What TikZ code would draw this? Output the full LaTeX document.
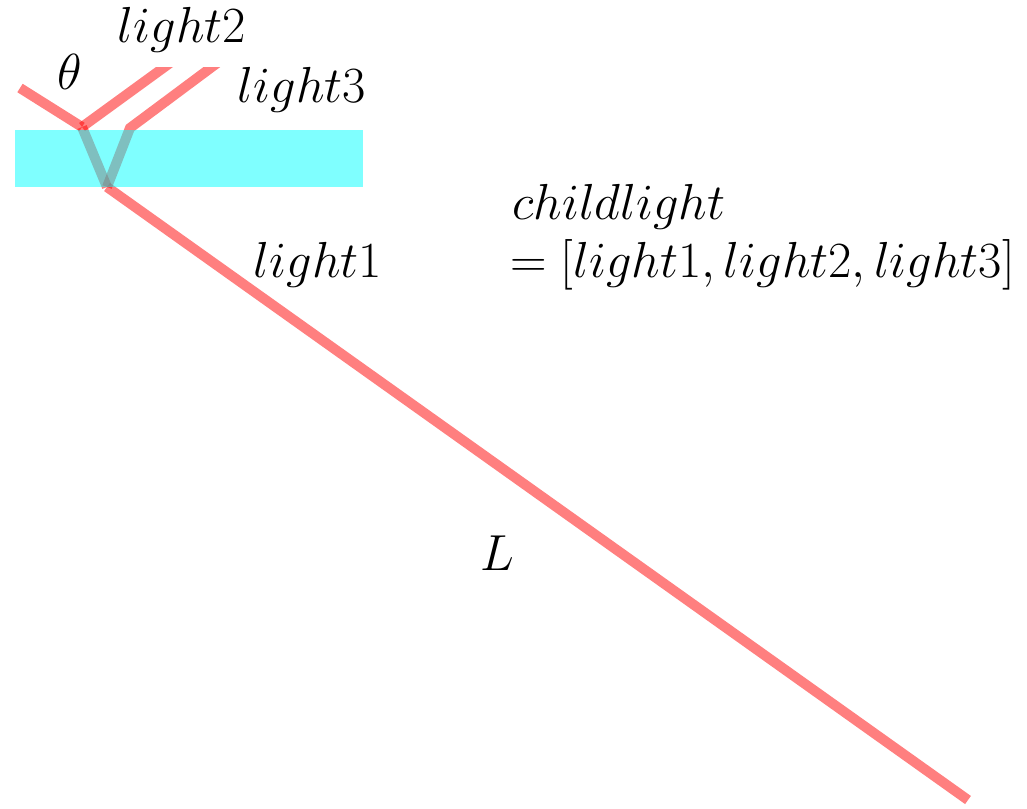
\RequirePackage{fix-cm}
\documentclass[tikz,border=0pt]{standalone}
\definecolor{raycol}{RGB}{255,0,0}
\definecolor{slabcol}{RGB}{0,255,255}
\begin{document}
\begin{tikzpicture}[x=0.75pt,y=-0.75pt,
  ray/.style={draw=raycol,draw opacity=0.5,line width=7.5pt},
  lbl/.style={font=\fontsize{38}{44}\selectfont,inner sep=0pt}]
\useasboundingbox (0,0) rectangle (1027,808);
% coordinates
\coordinate (src) at (20,88);
\coordinate (hit) at (82,127);
\coordinate (bot) at (107,187);
\coordinate (out3) at (130,128);
\coordinate (top2) at (181,55);
\coordinate (top3) at (228,55);
\coordinate (far) at (968,800);
% rays
\draw[ray] (src) -- (hit);
\draw[ray] (hit) -- (bot);
\draw[ray] (bot) -- (far);
\begin{scope}
\clip (0,67) rectangle (1027,808);
\draw[ray] (hit) -- (top2);
\draw[ray,line join=miter] (bot) -- (out3) -- (top3);
\end{scope}
% glass slab
\fill[slabcol,opacity=0.5] (15,130) rectangle (363,187);
% labels
\node[lbl] (theta) at (70,72) {$\theta$};
\node[lbl] (l2) at (182,30) {$light2$};
\node[lbl] (l3) at (302,90) {$light3$};
\node[lbl] (l1) at (318,265) {$light1$};
\node[lbl,anchor=west] (cl) at (512,207) {$childlight$};
\node[lbl,anchor=west] (eq) at (510,265) {$=[light1,light2,light3]$};
\node[lbl] (L) at (497,553) {$L$};
\end{tikzpicture}
\end{document}
